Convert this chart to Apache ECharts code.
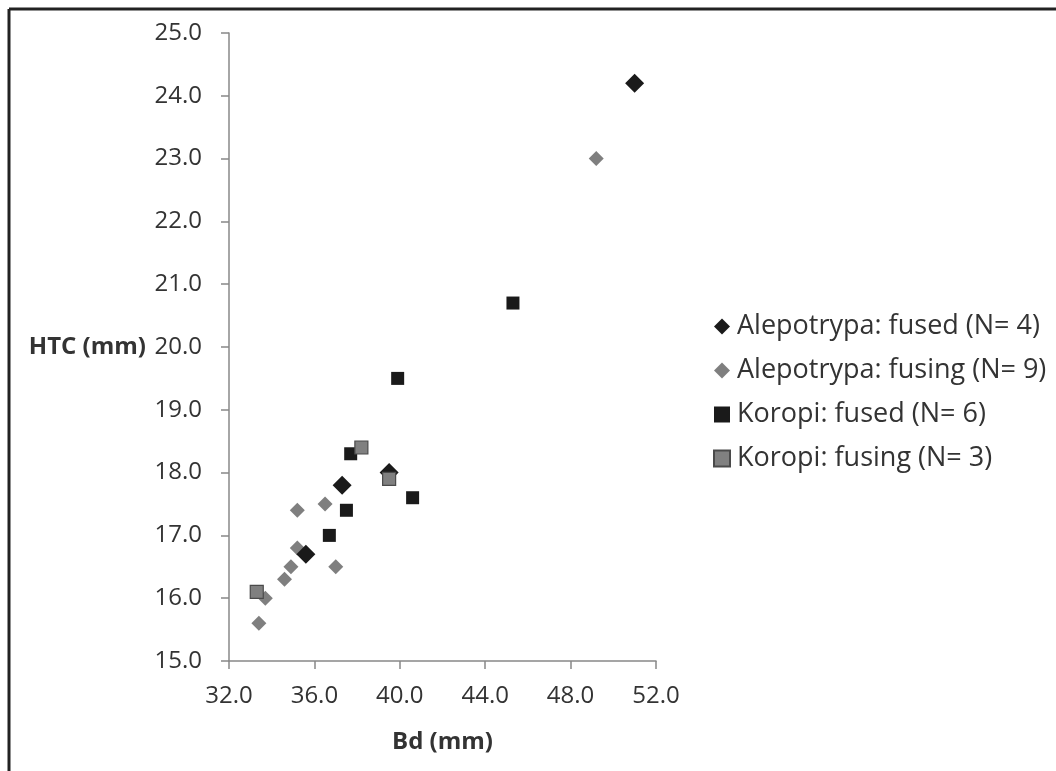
<!DOCTYPE html>
<html>
<head>
<meta charset="utf-8">
<script src="https://cdn.jsdelivr.net/npm/echarts@6/dist/echarts.min.js"></script>
<style>html,body{margin:0;padding:0;background:#fff}#c{width:1056px;height:771px}</style>
</head>
<body>
<div id="c"></div>
<script>
const seriesNames = ['Alepotrypa: fused (N= 4)', 'Alepotrypa: fusing (N= 9)', 'Koropi: fused (N= 6)', 'Koropi: fusing (N= 3)'];
const alepotrypaFused = [[51.0, 24.2], [39.5, 18.0], [37.3, 17.8], [35.6, 16.7]];
const alepotrypaFusing = [[49.2, 23.0], [35.2, 17.4], [36.5, 17.5], [35.2, 16.8], [34.9, 16.5], [34.6, 16.3], [33.7, 16.0], [33.4, 15.6], [37.0, 16.5]];
const koropiFused = [[45.3, 20.7], [39.9, 19.5], [37.7, 18.3], [40.6, 17.6], [37.5, 17.4], [36.7, 17.0]];
const koropiFusing = [[38.2, 18.4], [39.5, 17.9], [33.3, 16.1]];
const xTicks = {min: 32, max: 52, interval: 4};
const yTicks = {min: 15, max: 25, interval: 1};

const FONT = '"Open Sans"';
const chart = echarts.init(document.getElementById('c'), null, {renderer: 'canvas'});
chart.setOption({
  animation: false,
  backgroundColor: '#fff',
  textStyle: {fontFamily: FONT},
  grid: {left: 229, right: 400, top: 33, bottom: 110, containLabel: false},
  graphic: [
    {type: 'line', shape: {x1: 9, y1: 9, x2: 1056, y2: 9}, style: {stroke: '#222', lineWidth: 3}},
    {type: 'line', shape: {x1: 9, y1: 9, x2: 9, y2: 771}, style: {stroke: '#222', lineWidth: 3}}
  ],
  legend: {
    orient: 'vertical',
    left: 708,
    top: 308,
    itemWidth: 16,
    itemHeight: 16,
    itemGap: 17,
    textStyle: {fontFamily: FONT, fontSize: 27, color: '#333', padding: [0, 0, 0, 2]},
    data: [
      {name: seriesNames[0], icon: 'diamond'},
      {name: seriesNames[1], icon: 'diamond'},
      {name: seriesNames[2], icon: 'rect'},
      {name: seriesNames[3], icon: 'rect'}
    ]
  },
  xAxis: {
    type: 'value',
    min: xTicks.min, max: xTicks.max, interval: xTicks.interval,
    name: 'Bd (mm)',
    nameLocation: 'middle',
    nameGap: 69,
    nameTextStyle: {fontFamily: FONT, fontSize: 24, fontWeight: 'bold', color: '#333'},
    axisLine: {show: true, lineStyle: {color: '#888', width: 1.5}},
    axisTick: {show: true, length: 8, lineStyle: {color: '#888', width: 1.5}},
    axisLabel: {fontFamily: FONT, fontSize: 24, color: '#333', margin: 23, formatter: v => v.toFixed(1)},
    splitLine: {show: false}
  },
  yAxis: {
    type: 'value',
    min: yTicks.min, max: yTicks.max, interval: yTicks.interval,
    name: 'HTC (mm)',
    nameLocation: 'middle',
    nameRotate: 0,
    nameGap: 83,
    nameTextStyle: {fontFamily: FONT, fontSize: 24, fontWeight: 'bold', color: '#333', align: 'right', verticalAlign: 'middle'},
    axisLine: {show: true, lineStyle: {color: '#888', width: 1.5}},
    axisTick: {show: true, length: 8, lineStyle: {color: '#888', width: 1.5}},
    axisLabel: {fontFamily: FONT, fontSize: 24, color: '#333', margin: 27, formatter: v => v.toFixed(1)},
    splitLine: {show: false}
  },
  series: [
    {name: seriesNames[1], type: 'scatter', symbol: 'diamond', symbolSize: 15, data: alepotrypaFusing,
     itemStyle: {color: '#7f7f7f', opacity: 1}, z: 2},
    {name: seriesNames[0], type: 'scatter', symbol: 'diamond', symbolSize: 19, data: alepotrypaFused,
     itemStyle: {color: '#1a1a1a', opacity: 1}, z: 3},
    {name: seriesNames[2], type: 'scatter', symbol: 'rect', symbolSize: 13, data: koropiFused,
     itemStyle: {color: '#1a1a1a', opacity: 1}, z: 4},
    {name: seriesNames[3], type: 'scatter', symbol: 'rect', symbolSize: 13, data: koropiFusing,
     itemStyle: {color: '#808080', borderColor: '#4a4a4a', borderWidth: 1.2, opacity: 1}, z: 5}
  ]
});
</script>
</body>
</html>
